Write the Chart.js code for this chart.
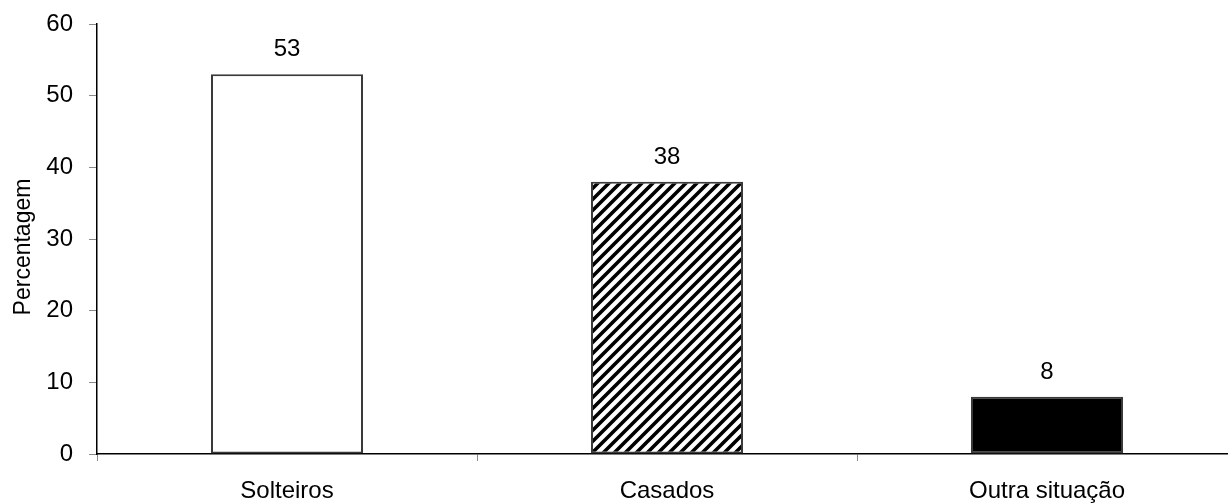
<!DOCTYPE html>
<html>
<head>
<meta charset="utf-8">
<script src="https://cdn.jsdelivr.net/npm/chart.js@4/dist/chart.umd.min.js"></script>
<style>
  html, body { margin: 0; padding: 0; background: #fff; overflow: hidden; }
  #wrap { width: 1228px; height: 504px; overflow: hidden; }
  canvas { display: block; }
</style>
</head>
<body>
<div id="wrap"><canvas id="c" width="1240" height="504"></canvas></div>
<script>
// Estado civil (percentagem)
const categories = ['Solteiros', 'Casados', 'Outra situação'];
const percentages = [53, 38, 8];
const yTicks = [0, 10, 20, 30, 40, 50, 60];
const yTitle = 'Percentagem';

const FONT = '"Liberation Sans", Arial, sans-serif';
const FONT_SIZE = 24;

// Diagonal hatch used for the "Casados" bar
function hatchPattern() {
  const p = 11;
  const c = document.createElement('canvas');
  c.width = p; c.height = p;
  const g = c.getContext('2d');
  g.fillStyle = '#fff';
  g.fillRect(0, 0, p, p);
  g.strokeStyle = '#000';
  g.lineWidth = 3.6;
  g.lineCap = 'square';
  g.beginPath();
  g.moveTo(0, p); g.lineTo(p, 0);
  g.moveTo(-p / 2, p / 2); g.lineTo(p / 2, -p / 2);
  g.moveTo(p / 2, p * 1.5); g.lineTo(p * 1.5, p / 2);
  g.stroke();
  return g.createPattern(c, 'repeat');
}

const ctx = document.getElementById('c').getContext('2d');

// Writes each bar's value above it
const valueLabels = {
  id: 'valueLabels',
  afterDatasetsDraw(chart) {
    const g = chart.ctx;
    const meta = chart.getDatasetMeta(0);
    g.save();
    g.font = FONT_SIZE + 'px ' + FONT;
    g.fillStyle = '#000';
    g.textAlign = 'center';
    g.textBaseline = 'alphabetic';
    meta.data.forEach((bar, i) => {
      g.fillText(String(chart.data.datasets[0].data[i]), bar.x, bar.y - 18);
    });
    g.restore();
  }
};

// Vertical axis title
const axisTitle = {
  id: 'axisTitle',
  afterDraw(chart) {
    const g = chart.ctx;
    g.save();
    g.font = '23px ' + FONT;
    g.fillStyle = '#000';
    g.textAlign = 'center';
    g.textBaseline = 'middle';
    g.translate(24, 247);
    g.rotate(-Math.PI / 2);
    g.fillText(yTitle, 0, 0);
    g.restore();
  }
};

new Chart(ctx, {
  type: 'bar',
  data: {
    labels: categories,
    datasets: [{
      data: percentages,
      backgroundColor: ['#ffffff', hatchPattern(), '#000000'],
      borderColor: '#3a3a3a',
      borderWidth: 2,
      borderSkipped: false,
      categoryPercentage: 1.0,
      barPercentage: 0.4
    }]
  },
  options: {
    responsive: false,
    animation: false,
    devicePixelRatio: 1,
    layout: { padding: { left: 0, right: 3, top: 24, bottom: 0 } },
    plugins: {
      legend: { display: false },
      tooltip: { enabled: false }
    },
    scales: {
      x: {
        grid: { offset: true, drawOnChartArea: false, drawTicks: true, tickLength: 7, color: '#8a8a8a', lineWidth: 1 },
        border: { display: true, color: '#000', width: 1.5 },
        ticks: { color: '#000', font: { family: FONT, size: FONT_SIZE }, padding: 16, maxRotation: 0 },
        afterFit(scale) { scale.height = 50; scale.paddingLeft = 0; scale.paddingRight = 0; }
      },
      y: {
        min: 0,
        max: 60,
        afterBuildTicks(scale) { scale.ticks = yTicks.map(v => ({ value: v })); },
        grid: { drawOnChartArea: false, drawTicks: true, tickLength: 8, color: '#8a8a8a', lineWidth: 1 },
        border: { display: true, color: '#000', width: 1.5 },
        ticks: { color: '#000', font: { family: FONT, size: FONT_SIZE }, padding: 16 },
        afterFit(scale) { scale.width = 97; scale.paddingTop = 0; scale.paddingBottom = 0; }
      }
    }
  },
  plugins: [valueLabels, axisTitle]
});
</script>
</body>
</html>
